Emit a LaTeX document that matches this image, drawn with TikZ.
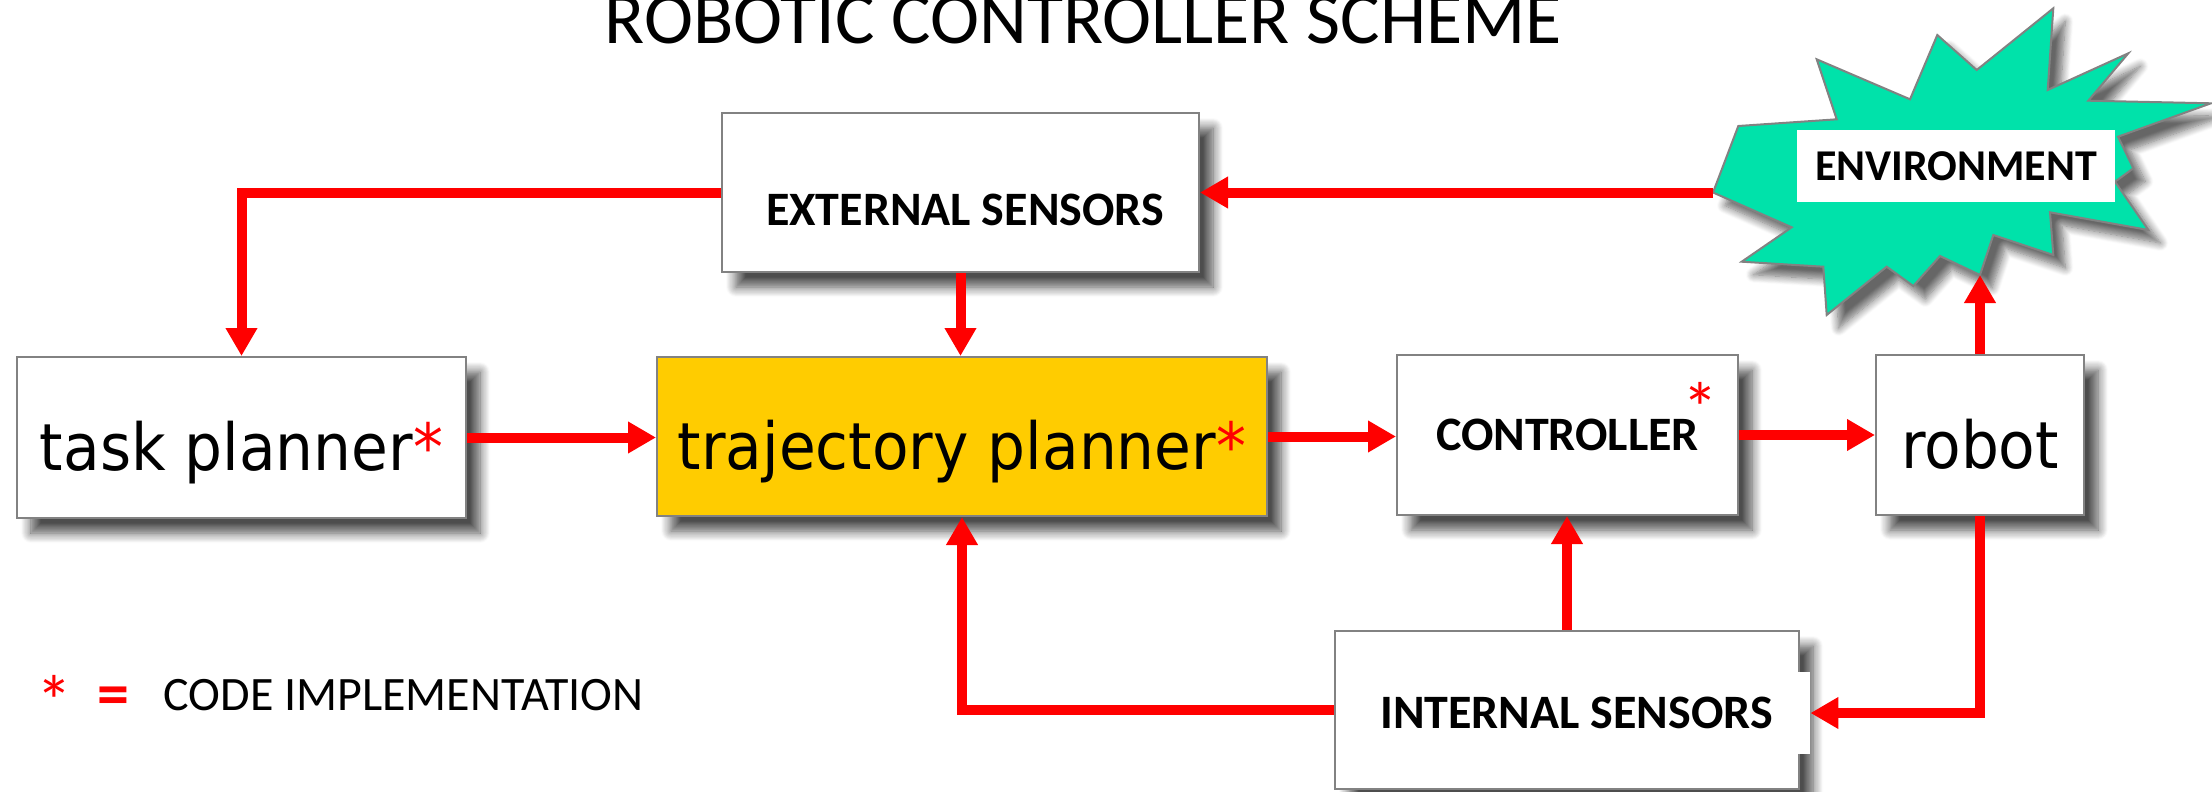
\documentclass[tikz,border=0pt]{standalone}
\usepackage{fontspec}
\setmainfont{Carlito}
\newfontfamily\blockfont[FakeStretch=0.92]{DejaVu Sans}
\usetikzlibrary{arrows.meta,shadows.blur}

\definecolor{envgreen}{RGB}{0,226,170}
\definecolor{trajgold}{RGB}{255,204,0}
\definecolor{edgegray}{RGB}{130,130,130}

\tikzset{
  blockbox/.style={draw=edgegray, line width=1pt, fill=white, inner sep=0pt,
    blur shadow={shadow xshift=7pt, shadow yshift=-7.5pt, shadow blur steps=10,
                 shadow blur radius=5pt, shadow opacity=70}},
  flow/.style={draw=red, line width=5pt, -{Triangle[length=14pt,width=15pt]}},
  capsbold/.style={font=\fontsize{24}{28}\selectfont\bfseries, inner sep=0pt},
  planner/.style={font=\blockfont\fontsize{32.5}{38}\selectfont,
    text height=33pt, text depth=0pt},
  redmark/.style={text=red, inner sep=0pt},
  starmark/.style={redmark, font=\fontsize{36}{40}\selectfont,
    text height=0.66em, text depth=-0.3em},
}

\begin{document}
\begin{tikzpicture}[x=0.5pt, y=-0.5pt]
\path[use as bounding box] (0,0) rectangle (2212,792);

% title
\node[font=\fontsize{37}{44}\selectfont, anchor=base, inner sep=0pt] (title)
  at (1083.5,44) {ROBOTIC CONTROLLER SCHEME};

% environment burst
\coordinate (envL) at (1713,192.5);
\coordinate (envB) at (1980,275);
\path[draw=edgegray, line width=1pt, fill=envgreen,
      blur shadow={shadow xshift=6pt, shadow yshift=-6.5pt, shadow blur steps=10,
                   shadow blur radius=4pt, shadow opacity=60}]
  (envL) -- (1738.3,126) -- (1836.7,119.3) -- (1816.7,59.3) -- (1910,99.3)
  -- (1937.3,35) -- (1976.7,70) -- (2053.3,8.3) -- (2047.7,90) -- (2128.3,53.3)
  -- (2088.3,100.7) -- (2211,103.3) -- (2118,136.7) -- (2133.3,168.3)
  -- (2115,181.7) -- (2148.3,230) -- (2050,212.3) -- (2053.3,255) -- (1993.3,235)
  -- (envB) -- (1940,256) -- (1913.3,286) -- (1886.7,266.7) -- (1826.7,315)
  -- (1823.3,266.7) -- (1741.7,261.7) -- (1791.7,227.3) -- cycle;
\node[fill=white, minimum width=159pt, minimum height=36pt, inner sep=0pt,
      font=\fontsize{22}{26}\selectfont\bfseries] (envTxt)
  at (1956,166) {ENVIRONMENT};

% blocks
\node[blockbox, minimum width=238.5pt, minimum height=79.5pt] (ext) at (960.5,192.5) {};
\node[capsbold] (extTxt) at (965,210) {EXTERNAL SENSORS};

\node[blockbox, planner, minimum width=224.5pt, minimum height=80.5pt] (task)
  at (241.5,437.5) {task planner\textcolor{red}{*}};

\node[blockbox, planner, fill=trajgold, minimum width=305pt, minimum height=79.5pt] (traj)
  at (962,436.5) {trajectory planner\textcolor{red}{*}};

\node[blockbox, capsbold, minimum width=170.5pt, minimum height=80pt] (ctrl)
  at (1567.5,435) {CONTROLLER};
\node[starmark] (ctrlStar) at (1700,427) {*};

\node[blockbox, planner, minimum width=104pt, minimum height=80pt] (robot)
  at (1980,435) {robot};

\node[blockbox, minimum width=232pt, minimum height=79pt] (int) at (1567,710) {};
\node[capsbold, fill=white, minimum width=233.5pt, minimum height=41pt] (intTxt)
  at (1576.5,713) {INTERNAL SENSORS};

% connectors
\draw[flow] (envL) -- (ext.east);
\draw[flow] (ext.west) -| (task.north);
\draw[flow] (ext.south) -- (ext.south |- traj.north);
\draw[flow] (task.east) -- (task.east -| traj.west);
\draw[flow] (traj.east) -- (traj.east -| ctrl.west);
\draw[flow] (ctrl.east) -- (ctrl.east -| robot.west);
\draw[flow] (robot.north) -- (envB);
\draw[flow] (robot.south) |- (intTxt.east);
\draw[flow] (int.north) -- (int.north |- ctrl.south);
\draw[flow] (int.west) -| (traj.south);

% legend
\node[starmark] (legStar) at (54,720) {*};
\node[redmark, font=\fontsize{32}{38}\selectfont\bfseries] (legEq) at (113,701) {=};
\node[font=\fontsize{24}{28}\selectfont, inner sep=0pt] (legTxt) at (403.5,695)
  {CODE IMPLEMENTATION};
\end{tikzpicture}
\end{document}
